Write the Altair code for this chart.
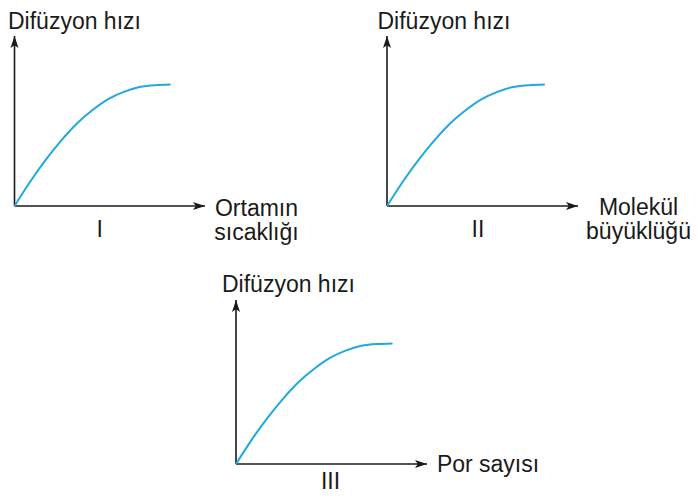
import altair as alt
import pandas as pd

# ---------------- data ----------------
panels = ["I", "II", "III"]
y_titles = ["Difüzyon hızı", "Difüzyon hızı", "Difüzyon hızı"]
x_titles = ["Ortamın\nsıcaklığı", "Molekül\nbüyüklüğü", "Por sayısı"]

# the rising, levelling-off curve (same shape in all three graphs)
curve_x = [0, 1, 2, 3, 4, 5, 6, 7, 8, 9, 10]
curve_y = [0, 2.0, 3.8, 5.4, 6.8, 7.9, 8.8, 9.4, 9.8, 9.95, 10.0]

# axis extents (arrow tips) in data units
x_end = [12.2, 12.1, 12.2]
y_end = [14.0, 14.0, 13.6]

# ---------------- layout / style ----------------
FONT = "Liberation Sans"
FS = 23
INK = "#1a1a1a"
BLUE = "#1fa8e1"

# pixel ranges of each small graph inside the drawing area
layout = [
    dict(x0=6.5, x1=197, yb=198, yt=28, ytdx=-6.5, ytdy=-7, xtdx=51.5, xtdy=10, ndx=-10, ndy=31),
    dict(x0=379, x1=570, yb=198, yt=28, ytdx=-9.5, ytdy=-7, xtdx=60.5, xtdy=9, ndx=-4.5, ndy=31),
    dict(x0=228, x1=419, yb=456, yt=292, ytdx=-14, ytdy=-8, xtdx=61, xtdy=8, ndx=-1, ndy=25),
]

ARROW_RIGHT = "M0,0L-3,-1L-2.3,0L-3,1Z"
ARROW_UP = "M0,0L-1,3L0,2.3L1,3Z"


def panel(i):
    L = layout[i]
    xs = alt.Scale(domain=[0, x_end[i]], range=[L["x0"], L["x1"]], nice=False, zero=False)
    ys = alt.Scale(domain=[0, y_end[i]], range=[L["yb"], L["yt"]], nice=False, zero=False)

    def enc(**extra):
        return dict(
            x=alt.X("x:Q", scale=xs, axis=None),
            y=alt.Y("y:Q", scale=ys, axis=None),
            **extra,
        )

    curve_df = pd.DataFrame({"x": curve_x, "y": curve_y})
    curve = alt.Chart(curve_df).mark_line(
        color=BLUE, strokeWidth=2, interpolate="natural"
    ).encode(**enc())

    axes_df = pd.DataFrame({"x": [0, 0], "y": [0, 0], "x2": [x_end[i], 0], "y2": [0, y_end[i]]})
    axes = alt.Chart(axes_df).mark_rule(color=INK, strokeWidth=1.6).encode(
        **enc(x2=alt.X2("x2"), y2=alt.Y2("y2"))
    )

    right_df = pd.DataFrame({"x": [x_end[i]], "y": [0]})
    arrow_r = alt.Chart(right_df).mark_point(
        shape=ARROW_RIGHT, filled=True, size=64, color=INK, opacity=1, strokeWidth=0
    ).encode(**enc())

    up_df = pd.DataFrame({"x": [0], "y": [y_end[i]]})
    arrow_u = alt.Chart(up_df).mark_point(
        shape=ARROW_UP, filled=True, size=64, color=INK, opacity=1, strokeWidth=0
    ).encode(**enc())

    yt_df = pd.DataFrame({"x": [0], "y": [y_end[i]], "t": [y_titles[i]]})
    y_title = alt.Chart(yt_df).mark_text(
        align="left", baseline="alphabetic", dx=L["ytdx"], dy=L["ytdy"],
        font=FONT, fontSize=FS, color=INK,
    ).encode(**enc(text="t:N"))

    xt_df = pd.DataFrame({"x": [x_end[i]], "y": [0], "t": [x_titles[i]]})
    x_title = alt.Chart(xt_df).mark_text(
        align="center", baseline="alphabetic", dx=L["xtdx"], dy=L["xtdy"],
        lineBreak="\n", lineHeight=24, font=FONT, fontSize=FS, color=INK,
    ).encode(**enc(text="t:N"))

    num_df = pd.DataFrame({"x": [x_end[i] / 2], "y": [0], "t": [panels[i]]})
    numeral = alt.Chart(num_df).mark_text(
        align="center", baseline="alphabetic", dx=L["ndx"], dy=L["ndy"],
        font=FONT, fontSize=FS, color=INK,
    ).encode(**enc(text="t:N"))

    return alt.layer(axes, curve, arrow_r, arrow_u, y_title, x_title, numeral)


chart = (
    alt.layer(*[panel(i) for i in range(3)])
    .resolve_scale(x="independent", y="independent")
    .properties(width=682, height=486, autosize=alt.AutoSizeParams(type="none"), padding=0)
    .configure_view(stroke=None)
)

chart.save("out.html", embed_options={"renderer": "svg", "actions": False})
